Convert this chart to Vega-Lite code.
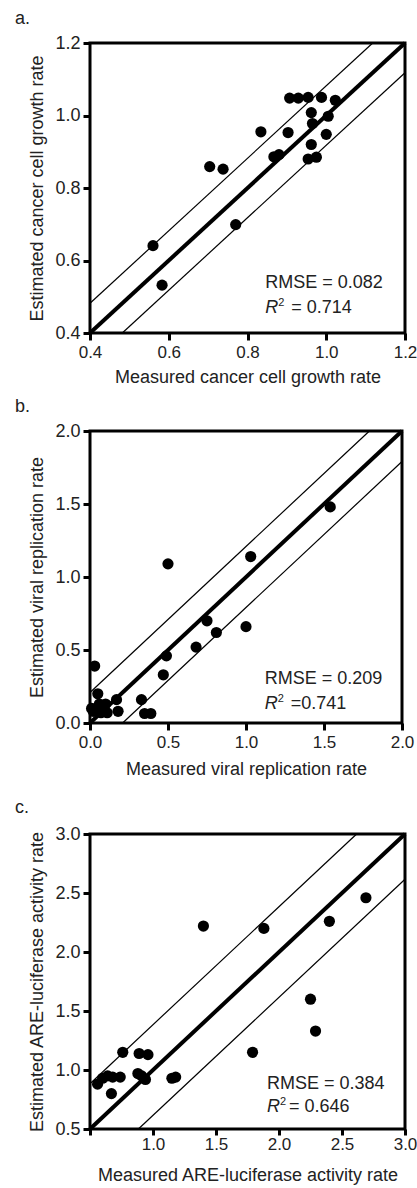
{
  "$schema": "https://vega.github.io/schema/vega-lite/v6.json",
  "background": "white",
  "padding": {"left": 13, "top": 8, "right": 0, "bottom": 0},
  "spacing": 17,
  "config": {
    "font": "Liberation Sans",
    "view": {"stroke": "black", "strokeWidth": 3},
    "axis": {"domain": false, "grid": false, "tickColor": "black", "tickWidth": 3, "tickSize": 7, "labelFont": "Liberation Sans", "labelFontSize": 18, "labelColor": "#222", "labelPadding": 3, "labelFlush": false, "labelOverlap": false, "titleFont": "Liberation Sans", "titleFontSize": 18, "titleFontWeight": "normal", "titleColor": "#222"},
    "axisX": {"titlePadding": 8, "labelFontSize": 17},
    "axisY": {"titlePadding": 8},
    "title": {"font": "Liberation Sans", "fontSize": 18, "fontWeight": "normal", "color": "#222", "anchor": "start", "frame": "bounds", "dx": -14, "offset": 6}
  },
  "datasets": {
    "a": [
      {"measured": 0.56, "estimated": 0.641}, {"measured": 0.583, "estimated": 0.532}, {"measured": 0.704, "estimated": 0.859}, {"measured": 0.738, "estimated": 0.852}, {"measured": 0.77, "estimated": 0.699}, {"measured": 0.834, "estimated": 0.955}, {"measured": 0.867, "estimated": 0.886}, {"measured": 0.88, "estimated": 0.892}, {"measured": 0.903, "estimated": 0.953}, {"measured": 0.907, "estimated": 1.048}, {"measured": 0.929, "estimated": 1.048}, {"measured": 0.954, "estimated": 1.05}, {"measured": 0.988, "estimated": 1.05}, {"measured": 1.023, "estimated": 1.042}, {"measured": 0.962, "estimated": 1.008}, {"measured": 1.005, "estimated": 0.998}, {"measured": 0.965, "estimated": 0.978}, {"measured": 1.0, "estimated": 0.948}, {"measured": 0.962, "estimated": 0.92}, {"measured": 0.954, "estimated": 0.88}, {"measured": 0.975, "estimated": 0.885}
    ],
    "b": [
      {"measured": 0.02, "estimated": 0.08}, {"measured": 0.01, "estimated": 0.1}, {"measured": 0.03, "estimated": 0.39}, {"measured": 0.05, "estimated": 0.2}, {"measured": 0.06, "estimated": 0.13}, {"measured": 0.04, "estimated": 0.1}, {"measured": 0.07, "estimated": 0.07}, {"measured": 0.1, "estimated": 0.13}, {"measured": 0.11, "estimated": 0.07}, {"measured": 0.17, "estimated": 0.16}, {"measured": 0.18, "estimated": 0.08}, {"measured": 0.33, "estimated": 0.16}, {"measured": 0.35, "estimated": 0.065}, {"measured": 0.39, "estimated": 0.065}, {"measured": 0.47, "estimated": 0.33}, {"measured": 0.49, "estimated": 0.46}, {"measured": 0.5, "estimated": 1.09}, {"measured": 0.68, "estimated": 0.52}, {"measured": 0.75, "estimated": 0.7}, {"measured": 0.81, "estimated": 0.62}, {"measured": 1.0, "estimated": 0.66}, {"measured": 1.03, "estimated": 1.14}, {"measured": 1.54, "estimated": 1.48}
    ],
    "c": [
      {"measured": 0.56, "estimated": 0.88}, {"measured": 0.6, "estimated": 0.93}, {"measured": 0.64, "estimated": 0.95}, {"measured": 0.68, "estimated": 0.94}, {"measured": 0.67, "estimated": 0.8}, {"measured": 0.74, "estimated": 0.94}, {"measured": 0.76, "estimated": 1.15}, {"measured": 0.88, "estimated": 0.97}, {"measured": 0.91, "estimated": 0.95}, {"measured": 0.94, "estimated": 0.92}, {"measured": 0.89, "estimated": 1.14}, {"measured": 0.96, "estimated": 1.13}, {"measured": 1.15, "estimated": 0.93}, {"measured": 1.18, "estimated": 0.94}, {"measured": 1.4, "estimated": 2.22}, {"measured": 1.79, "estimated": 1.15}, {"measured": 1.88, "estimated": 2.2}, {"measured": 2.25, "estimated": 1.6}, {"measured": 2.29, "estimated": 1.33}, {"measured": 2.4, "estimated": 2.26}, {"measured": 2.69, "estimated": 2.46}
    ]
  },
  "vconcat": [
    {
      "spacing": 8,
      "vconcat": [
        {
          "width": 315, "height": 290,
          "title": {"text": "a."},
          "layer": [
            {"data": {"values": [{}]}, "mark": {"type": "rule", "color": "black", "strokeWidth": 1.2}, "encoding": {"x": {"datum": 0.4, "type": "quantitative"}, "y": {"datum": 0.482, "type": "quantitative"}, "x2": {"datum": 1.118}, "y2": {"datum": 1.2}}},
            {"data": {"values": [{}]}, "mark": {"type": "rule", "color": "black", "strokeWidth": 1.2}, "encoding": {"x": {"datum": 0.482, "type": "quantitative"}, "y": {"datum": 0.4, "type": "quantitative"}, "x2": {"datum": 1.2}, "y2": {"datum": 1.118}}},
            {"data": {"values": [{}]}, "mark": {"type": "rule", "color": "black", "strokeWidth": 4}, "encoding": {"x": {"datum": 0.4, "type": "quantitative"}, "y": {"datum": 0.4, "type": "quantitative"}, "x2": {"datum": 1.2}, "y2": {"datum": 1.2}}},
            {"data": {"name": "a"}, "mark": {"type": "circle", "size": 125, "color": "black", "opacity": 1},
             "encoding": {
               "x": {"field": "measured", "type": "quantitative", "scale": {"domain": [0.4, 1.2], "nice": false, "zero": false}, "axis": {"title": "Measured cancer cell growth rate", "values": [0.4, 0.6, 0.8, 1.0, 1.2], "format": ".1f", "labelPadding": 4}},
               "y": {"field": "estimated", "type": "quantitative", "scale": {"domain": [0.4, 1.2], "nice": false, "zero": false}, "axis": {"title": "Estimated cancer cell growth rate", "values": [0.4, 0.6, 0.8, 1.0, 1.2], "format": ".1f"}}
             }},
            {"data": {"values": [{}]}, "mark": {"type": "text", "align": "left", "baseline": "alphabetic", "fontSize": 18, "color": "#222", "text": "RMSE = 0.082"}, "encoding": {"x": {"datum": 0.845, "type": "quantitative"}, "y": {"datum": 0.525, "type": "quantitative"}}},
            {"data": {"values": [{}]}, "mark": {"type": "text", "align": "left", "baseline": "alphabetic", "fontSize": 18, "fontStyle": "italic", "color": "#222", "text": "R"}, "encoding": {"x": {"datum": 0.845, "type": "quantitative"}, "y": {"datum": 0.456, "type": "quantitative"}}},
            {"data": {"values": [{}]}, "mark": {"type": "text", "align": "left", "baseline": "alphabetic", "fontSize": 11, "dx": 13, "dy": -7, "color": "#222", "text": "2"}, "encoding": {"x": {"datum": 0.845, "type": "quantitative"}, "y": {"datum": 0.456, "type": "quantitative"}}},
            {"data": {"values": [{}]}, "mark": {"type": "text", "align": "left", "baseline": "alphabetic", "fontSize": 18, "dx": 26, "color": "#222", "text": "= 0.714"}, "encoding": {"x": {"datum": 0.845, "type": "quantitative"}, "y": {"datum": 0.456, "type": "quantitative"}}}
          ]
        },
        {
          "width": 312, "height": 292,
          "title": {"text": "b."},
          "layer": [
            {"data": {"values": [{}]}, "mark": {"type": "rule", "color": "black", "strokeWidth": 1.2}, "encoding": {"x": {"datum": 0, "type": "quantitative"}, "y": {"datum": 0.209, "type": "quantitative"}, "x2": {"datum": 1.791}, "y2": {"datum": 2}}},
            {"data": {"values": [{}]}, "mark": {"type": "rule", "color": "black", "strokeWidth": 1.2}, "encoding": {"x": {"datum": 0.209, "type": "quantitative"}, "y": {"datum": 0, "type": "quantitative"}, "x2": {"datum": 2}, "y2": {"datum": 1.791}}},
            {"data": {"values": [{}]}, "mark": {"type": "rule", "color": "black", "strokeWidth": 4}, "encoding": {"x": {"datum": 0, "type": "quantitative"}, "y": {"datum": 0, "type": "quantitative"}, "x2": {"datum": 2}, "y2": {"datum": 2}}},
            {"data": {"name": "b"}, "mark": {"type": "circle", "size": 125, "color": "black", "opacity": 1},
             "encoding": {
               "x": {"field": "measured", "type": "quantitative", "scale": {"domain": [0, 2], "nice": false}, "axis": {"title": "Measured viral replication rate", "values": [0, 0.5, 1, 1.5, 2], "format": ".1f", "labelPadding": 4, "titlePadding": 10}},
               "y": {"field": "estimated", "type": "quantitative", "scale": {"domain": [0, 2], "nice": false}, "axis": {"title": "Estimated viral replication rate", "values": [0, 0.5, 1, 1.5, 2], "format": ".1f"}}
             }},
            {"data": {"values": [{}]}, "mark": {"type": "text", "align": "left", "baseline": "alphabetic", "fontSize": 18, "color": "#222", "text": "RMSE = 0.209"}, "encoding": {"x": {"datum": 1.12, "type": "quantitative"}, "y": {"datum": 0.269, "type": "quantitative"}}},
            {"data": {"values": [{}]}, "mark": {"type": "text", "align": "left", "baseline": "alphabetic", "fontSize": 18, "fontStyle": "italic", "color": "#222", "text": "R"}, "encoding": {"x": {"datum": 1.12, "type": "quantitative"}, "y": {"datum": 0.098, "type": "quantitative"}}},
            {"data": {"values": [{}]}, "mark": {"type": "text", "align": "left", "baseline": "alphabetic", "fontSize": 11, "dx": 13, "dy": -7, "color": "#222", "text": "2"}, "encoding": {"x": {"datum": 1.12, "type": "quantitative"}, "y": {"datum": 0.098, "type": "quantitative"}}},
            {"data": {"values": [{}]}, "mark": {"type": "text", "align": "left", "baseline": "alphabetic", "fontSize": 18, "dx": 26, "color": "#222", "text": "=0.741"}, "encoding": {"x": {"datum": 1.12, "type": "quantitative"}, "y": {"datum": 0.098, "type": "quantitative"}}}
          ]
        }
      ]
    },
    {
      "width": 315, "height": 295,
      "title": {"text": "c.", "offset": 8},
      "layer": [
        {"data": {"values": [{}]}, "mark": {"type": "rule", "color": "black", "strokeWidth": 1.2}, "encoding": {"x": {"datum": 0.5, "type": "quantitative"}, "y": {"datum": 0.884, "type": "quantitative"}, "x2": {"datum": 2.616}, "y2": {"datum": 3}}},
        {"data": {"values": [{}]}, "mark": {"type": "rule", "color": "black", "strokeWidth": 1.2}, "encoding": {"x": {"datum": 0.884, "type": "quantitative"}, "y": {"datum": 0.5, "type": "quantitative"}, "x2": {"datum": 3}, "y2": {"datum": 2.616}}},
        {"data": {"values": [{}]}, "mark": {"type": "rule", "color": "black", "strokeWidth": 4}, "encoding": {"x": {"datum": 0.5, "type": "quantitative"}, "y": {"datum": 0.5, "type": "quantitative"}, "x2": {"datum": 3}, "y2": {"datum": 3}}},
        {"data": {"name": "c"}, "mark": {"type": "circle", "size": 125, "color": "black", "opacity": 1},
         "encoding": {
           "x": {"field": "measured", "type": "quantitative", "scale": {"domain": [0.5, 3], "nice": false, "zero": false}, "axis": {"title": "Measured ARE-luciferase activity rate", "values": [0.5, 1, 1.5, 2, 2.5, 3], "format": ".1f", "labelExpr": "datum.value == 0.5 ? '' : datum.label", "labelPadding": 1, "tickSize": 6, "titlePadding": 14}},
           "y": {"field": "estimated", "type": "quantitative", "scale": {"domain": [0.5, 3], "nice": false, "zero": false}, "axis": {"title": "Estimated ARE-luciferase activity rate", "values": [0.5, 1, 1.5, 2, 2.5, 3], "format": ".1f"}}
         }},
        {"data": {"values": [{}]}, "mark": {"type": "text", "align": "left", "baseline": "alphabetic", "fontSize": 18, "color": "#222", "text": "RMSE = 0.384"}, "encoding": {"x": {"datum": 1.905, "type": "quantitative"}, "y": {"datum": 0.842, "type": "quantitative"}}},
        {"data": {"values": [{}]}, "mark": {"type": "text", "align": "left", "baseline": "alphabetic", "fontSize": 18, "fontStyle": "italic", "color": "#222", "text": "R"}, "encoding": {"x": {"datum": 1.905, "type": "quantitative"}, "y": {"datum": 0.647, "type": "quantitative"}}},
        {"data": {"values": [{}]}, "mark": {"type": "text", "align": "left", "baseline": "alphabetic", "fontSize": 11, "dx": 13, "dy": -7, "color": "#222", "text": "2"}, "encoding": {"x": {"datum": 1.905, "type": "quantitative"}, "y": {"datum": 0.647, "type": "quantitative"}}},
        {"data": {"values": [{}]}, "mark": {"type": "text", "align": "left", "baseline": "alphabetic", "fontSize": 18, "dx": 22, "color": "#222", "text": "= 0.646"}, "encoding": {"x": {"datum": 1.905, "type": "quantitative"}, "y": {"datum": 0.647, "type": "quantitative"}}}
      ]
    }
  ]
}
